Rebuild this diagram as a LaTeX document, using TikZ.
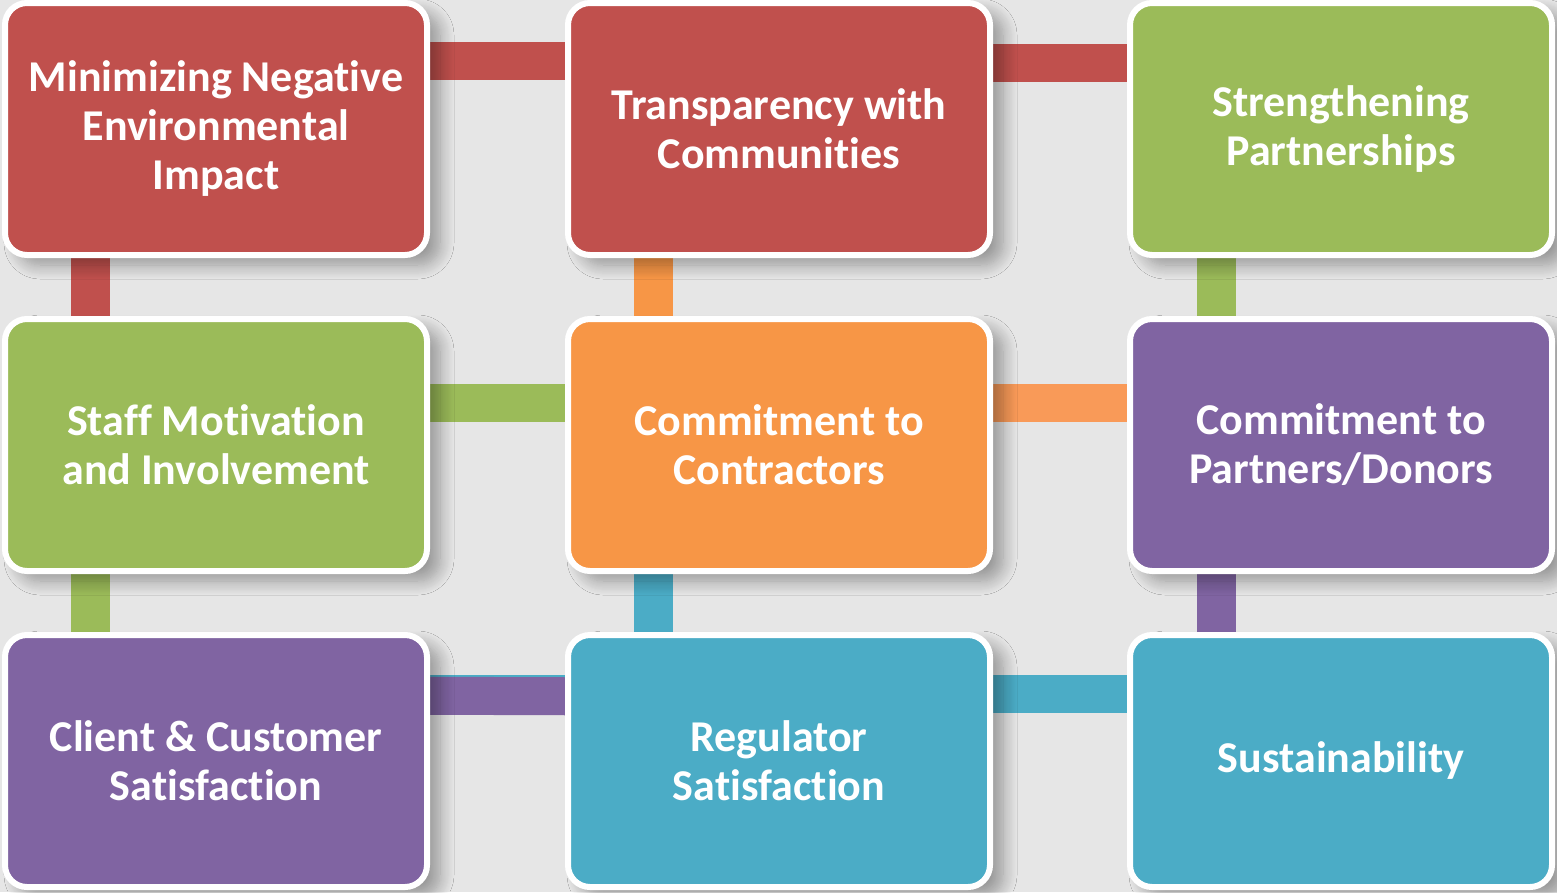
\documentclass[tikz,border=0pt]{standalone}
\usepackage{fontspec}
\setmainfont{Carlito}[RawFeature=-liga]
\usetikzlibrary{shadows.blur}
\definecolor{bg}{HTML}{E6E6E6}
\definecolor{boxred}{HTML}{C0504D}
\definecolor{boxgreen}{HTML}{9BBB59}
\definecolor{boxorange}{HTML}{F79646}
\definecolor{barorange}{HTML}{F99A58}
\definecolor{boxpurple}{HTML}{8064A2}
\definecolor{boxcyan}{HTML}{4BACC6}

\begin{document}
\begin{tikzpicture}[x=1pt,y=-1pt,
box/.style={draw=white,line width=6pt,rounded corners=22pt,
	minimum width=422pt,minimum height=252pt,align=center,text=white,
	font=\fontsize{44}{49}\selectfont\bfseries,
	blur shadow={shadow xshift=13pt,shadow yshift=-10pt,shadow blur steps=14,
		shadow blur radius=14pt,shadow opacity=35}},
hbar/.style={line width=38pt},
vbar/.style={line width=39pt}]
\useasboundingbox[fill=bg] (0,0) rectangle (1557,892);

% connectors first, so the boxes sit on them
\coordinate (r1) at (216,61);
\coordinate (r1b) at (1341,63);
\coordinate (r2) at (216,403);
\coordinate (r3) at (216,695);
\coordinate (r3b) at (1341,694);
\draw[hbar,boxred] (r1) -- (779,61);
\draw[hbar,boxred] (779,63) -- (r1b);
\draw[hbar,boxgreen] (r2) -- (779,403);
\draw[hbar,barorange] (779,403) -- (1341,403);
\draw[hbar,boxcyan] (216,694) -- (r3b);
\draw[hbar,boxpurple] (r3) -- (779,697);
\coordinate (c1) at (90,129);
\coordinate (c2) at (653,129);
\coordinate (c3) at (1216,129);
\draw[vbar,boxred] (c1) -- (90,445);
\draw[vbar,boxgreen] (90,445) -- (90,761);
\draw[vbar,boxorange] (c2) -- (653,445);
\draw[vbar,boxcyan] (653,445) -- (653,761);
\draw[vbar,boxgreen] (c3) -- (1216,445);
\draw[vbar,boxpurple] (1216,445) -- (1216,761);

% the nine boxes
\node[box,fill=boxred] (envir) at (216,129) {Minimizing Negative\\Environmental\\Impact};
\node[box,fill=boxred] (transp) at (779,129) {Transparency with\\Communities};
\node[box,fill=boxgreen] (partner) at (1341,129) {Strengthening\\Partnerships};
\node[box,fill=boxgreen] (staff) at (216,445) {Staff Motivation\\and Involvement};
\node[box,fill=boxorange] (contract) at (779,445) {Commitment to\\Contractors};
\node[box,fill=boxpurple] (donors) at (1341,445) {Commitment to\\Partners/Donors};
\node[box,fill=boxpurple] (client) at (216,761) {Client \& Customer\\Satisfaction};
\node[box,fill=boxcyan] (regul) at (779,761) {Regulator\\Satisfaction};
\node[box,fill=boxcyan] (sustain) at (1341,761) {Sustainability};
\end{tikzpicture}
\end{document}
